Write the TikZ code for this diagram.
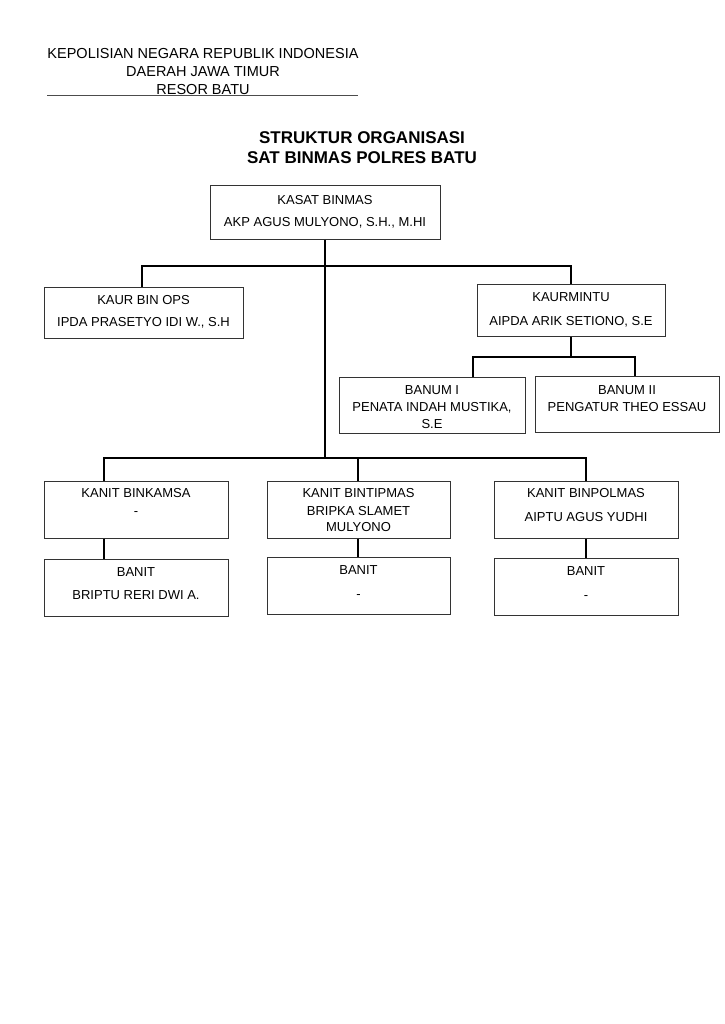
\documentclass[tikz,border=0pt]{standalone}
\usepackage{fontspec}
\setmainfont{Liberation Sans}
\usetikzlibrary{positioning}

\begin{document}
\begin{tikzpicture}[x=1pt,y=-1pt,
        box/.style 2 args={draw=black!80,line width=1pt,minimum width=#1,minimum height=#2,inner sep=0pt},
        txt/.style={font=\fontsize{13}{15}\selectfont,inner sep=0pt,text height=9.3pt,text depth=0pt},
        head/.style={font=\fontsize{14.5}{17}\selectfont,inner sep=0pt,text height=10.4pt,text depth=0pt},
        ttl/.style={font=\fontsize{17}{20}\selectfont\bfseries,inner sep=0pt,text height=12.2pt,text depth=0pt},
        link/.style={line width=2pt,black}] % 1pt = 1px of the page
        \useasboundingbox (0,0) rectangle (724,1024);
        % heading
        \node[head] (h1) at (203,53) {KEPOLISIAN NEGARA REPUBLIK INDONESIA};
        \node[head] (h2) at (203,71.5) {DAERAH JAWA TIMUR};
        \node[head] (h3) at (203,89.5) {RESOR BATU};
        \draw[black!70,line width=0.9pt] (47,95) -- (358,95);
        \node[ttl] (t1) at (362,137) {STRUKTUR ORGANISASI};
        \node[ttl] (t2) at (362,157) {SAT BINMAS POLRES BATU};
        % boxes
        \node[box={230pt}{53pt}] (kasat) at (325,212.5) {};
        \node[txt] (kasat-a) at (325,200) {KASAT BINMAS};
        \node[txt] (kasat-b) at (325,222) {AKP AGUS MULYONO, S.H., M.HI};
        \node[box={199pt}{51pt}] (kaurops) at (143.5,312.5) {};
        \node[txt] (kaurops-a) at (143.5,299.5) {KAUR BIN OPS};
        \node[txt] (kaurops-b) at (143.5,322) {IPDA PRASETYO IDI W., S.H};
        \node[box={188pt}{52pt}] (kaurmintu) at (571,310) {};
        \node[txt] (kaurmintu-a) at (571,297) {KAURMINTU};
        \node[txt] (kaurmintu-b) at (571,320.5) {AIPDA ARIK SETIONO, S.E};
        \node[box={186pt}{56pt}] (banum1) at (432,405) {};
        \node[txt] (banum1-a) at (432,390) {BANUM I};
        \node[txt] (banum1-b) at (432,406.5) {PENATA INDAH MUSTIKA,};
        \node[txt] (banum1-c) at (432,423.5) {S.E};
        \node[box={184pt}{56pt}] (banum2) at (627,404) {};
        \node[txt] (banum2-a) at (627,390) {BANUM II};
        \node[txt] (banum2-b) at (627,406.5) {PENGATUR THEO ESSAU};
        \node[box={184pt}{57pt}] (kanit1) at (136,509.5) {};
        \node[txt] (kanit1-a) at (136,493) {KANIT BINKAMSA};
        \node[txt] (kanit1-b) at (136,511) {-};
        \node[box={183pt}{57pt}] (kanit2) at (358.5,509.5) {};
        \node[txt] (kanit2-a) at (358.5,493) {KANIT BINTIPMAS};
        \node[txt] (kanit2-b) at (358.5,510.5) {BRIPKA SLAMET};
        \node[txt] (kanit2-c) at (358.5,527) {MULYONO};
        \node[box={184pt}{57pt}] (kanit3) at (586,509.5) {};
        \node[txt] (kanit3-a) at (586,493) {KANIT BINPOLMAS};
        \node[txt] (kanit3-b) at (586,517) {AIPTU AGUS YUDHI};
        \node[box={184pt}{57pt}] (banit1) at (136,587.5) {};
        \node[txt] (banit1-a) at (136,571.5) {BANIT};
        \node[txt] (banit1-b) at (136,595) {BRIPTU RERI DWI A.};
        \node[box={183pt}{57pt}] (banit2) at (358.5,585.5) {};
        \node[txt] (banit2-a) at (358.5,569.5) {BANIT};
        \node[txt] (banit2-b) at (358.5,594) {-};
        \node[box={184pt}{57pt}] (banit3) at (586,586.5) {};
        \node[txt] (banit3-a) at (586,571) {BANIT};
        \node[txt] (banit3-b) at (586,595) {-};
        % connectors
        \coordinate (bus1) at (325,266);
        \coordinate (bus2) at (325,458);
        \coordinate (bus3) at (571,357);
        \draw[link] (kasat.south) -- (bus2);
        \draw[link] ([xshift=-1.5pt]kaurops.north) |- (bus1) -| (kaurmintu.north);
        \draw[link] (kaurmintu.south) -- (bus3);
        \draw[link] ([xshift=41pt]banum1.north) |- (bus3) -| ([xshift=8pt]banum2.north);
        \draw[link] ([xshift=-32pt]kanit1.north) |- (bus2) -| (kanit3.north);
        \draw[link] ([xshift=-0.5pt]kanit2.north) -- ([xshift=-0.5pt]kanit2.north |- bus2);
        \draw[link] ([xshift=-32pt]kanit1.south) -- ([xshift=-32pt]banit1.north);
        \draw[link] ([xshift=-0.5pt]kanit2.south) -- ([xshift=-0.5pt]banit2.north);
        \draw[link] (kanit3.south) -- (banit3.north);
\end{tikzpicture}
\end{document}
